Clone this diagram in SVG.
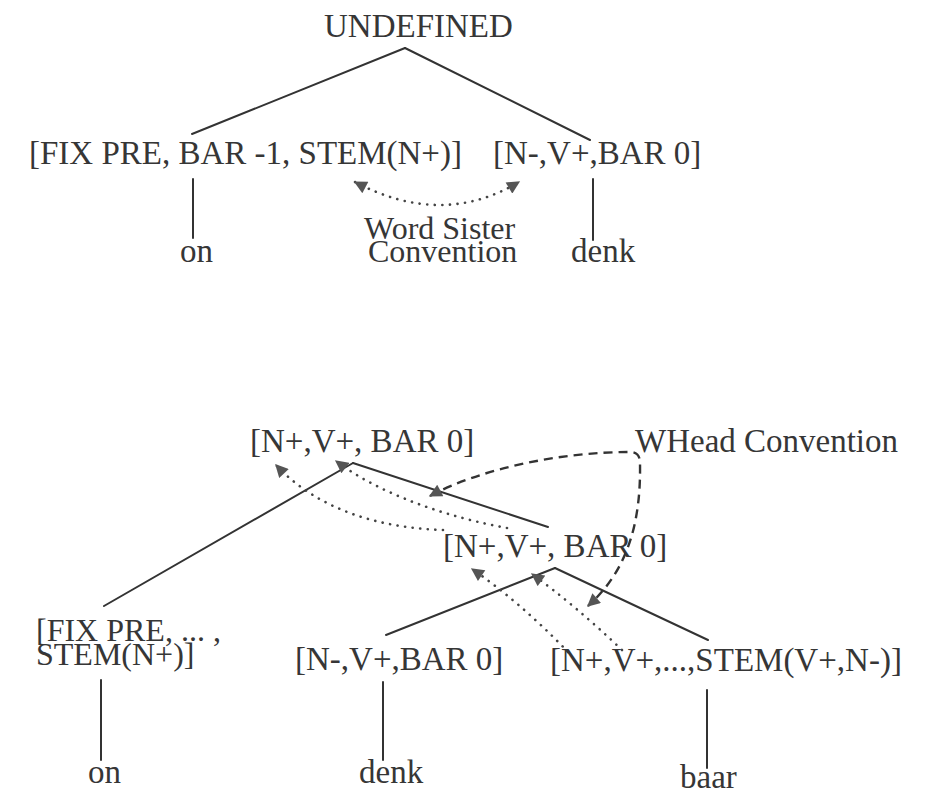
<svg xmlns="http://www.w3.org/2000/svg" width="932" height="797" viewBox="0 0 932 797">
<defs>
<style>
text { font-family: "Liberation Serif", "Times New Roman", serif; font-size: 33px; fill: #363636; }
.tight { font-size: 32px; }
.edge { stroke: #333; stroke-width: 2; fill: none; stroke-linecap: round; }
.dot { stroke: #444; stroke-width: 2.6; stroke-linecap: round; stroke-dasharray: 0.1 7.5; fill: none; }
.dash { stroke: #333; stroke-width: 2.4; stroke-dasharray: 9 6; fill: none; }
</style>
<marker id="ah" viewBox="0 0 10 10" refX="9" refY="5" markerWidth="14" markerHeight="13" markerUnits="userSpaceOnUse" orient="auto-start-reverse">
<path d="M0,0 L10,5 L0,10 z" fill="#555"/>
</marker>
</defs>
<rect width="932" height="797" fill="#fff"/>

<g id="connectors">
<!-- top tree -->
<line class="edge" x1="405" y1="48" x2="192" y2="134"/>
<line class="edge" x1="405" y1="48" x2="590" y2="140"/>
<line class="edge" x1="193" y1="179" x2="193" y2="238"/>
<line class="edge" x1="593" y1="179" x2="593" y2="240"/>
<path class="dot" d="M355,182 Q442,228 519,182" marker-start="url(#ah)" marker-end="url(#ah)"/>
<!-- bottom tree -->
<line class="edge" x1="353" y1="463" x2="104" y2="606"/>
<line class="edge" x1="353" y1="463" x2="548" y2="527"/>
<line class="edge" x1="555" y1="568" x2="386" y2="635"/>
<line class="edge" x1="555" y1="568" x2="708" y2="640"/>
<line class="edge" x1="101" y1="680" x2="101" y2="760"/>
<line class="edge" x1="383" y1="682" x2="383" y2="760"/>
<line class="edge" x1="707" y1="690" x2="707" y2="768"/>
<path class="dot" d="M443,530 C380,528 318,510 276,465" marker-end="url(#ah)"/>
<path class="dot" d="M507,528 C452,518 382,496 336,461" marker-end="url(#ah)"/>
<path class="dot" d="M568,652 Q520,602 472,569" marker-end="url(#ah)"/>
<path class="dot" d="M622,650 Q576,606 532,574" marker-end="url(#ah)"/>
<path class="dash" d="M430,496 C482,468 562,452 630,452 Q640,452 640,463 C641,522 628,570 588,606" marker-start="url(#ah)" marker-end="url(#ah)"/>
</g>

<g id="n-undefined"><text x="324" y="37">UNDEFINED</text></g>
<g id="n-fixpre-top"><text x="29" y="164">[FIX PRE, BAR -1, STEM(N+)]</text></g>
<g id="n-nv-top"><text x="493" y="164">[N-,V+,BAR 0]</text></g>
<g id="n-on-top"><text x="180" y="262">on</text></g>
<g id="n-denk-top"><text x="571" y="262">denk</text></g>
<g id="label-word-sister"><text class="tight" x="364" y="239">Word Sister</text><text class="tight" x="368" y="262">Convention</text></g>

<g id="n-top-bottom"><text x="250" y="452">[N+,V+, BAR 0]</text></g>
<g id="label-whead"><text x="635" y="452">WHead Convention</text></g>
<g id="n-mid-bottom"><text x="443" y="557">[N+,V+, BAR 0]</text></g>
<g id="n-fixpre-bottom"><text class="tight" x="36" y="641">[FIX PRE, ... ,</text><text class="tight" x="36" y="665">STEM(N+)]</text></g>
<g id="n-nv-bottom"><text x="295" y="670">[N-,V+,BAR 0]</text></g>
<g id="n-stem-bottom"><text x="550" y="671">[N+,V+,...,STEM(V+,N-)]</text></g>
<g id="n-on-bottom"><text x="88" y="783">on</text></g>
<g id="n-denk-bottom"><text x="359" y="783">denk</text></g>
<g id="n-baar"><text x="680" y="788">baar</text></g>
</svg>
